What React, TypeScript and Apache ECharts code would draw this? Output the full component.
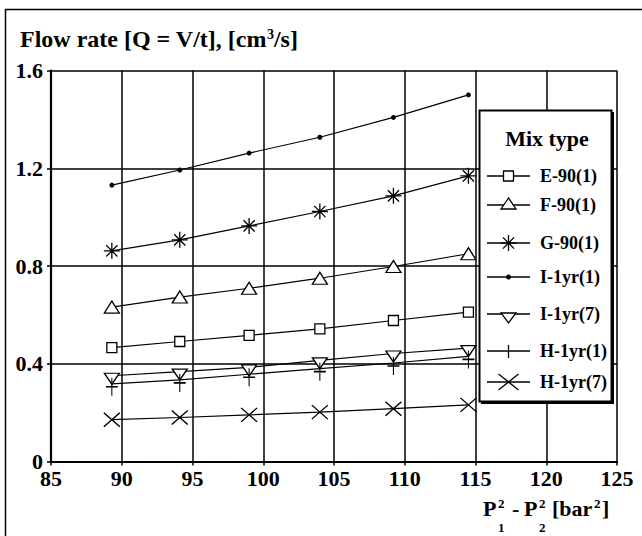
import React, { useEffect, useRef } from "react";
import * as echarts from "echarts";

const xValues = [89.3, 94.1, 99.0, 104.0, 109.2, 114.5];
const e90 = [0.466, 0.491, 0.516, 0.543, 0.577, 0.611];
const f90 = [0.632, 0.673, 0.709, 0.75, 0.798, 0.85];
const g90 = [0.862, 0.907, 0.964, 1.023, 1.087, 1.169];
const i1yr1 = [1.131, 1.193, 1.262, 1.327, 1.408, 1.5];
const i1yr7 = [0.351, 0.368, 0.385, 0.414, 0.442, 0.464];
const h1yr1 = [0.318, 0.334, 0.357, 0.38, 0.403, 0.43];
const h1yr7 = [0.171, 0.18, 0.191, 0.202, 0.216, 0.232];
const seriesNames = ["E-90(1)", "F-90(1)", "G-90(1)", "I-1yr(1)", "I-1yr(7)", "H-1yr(1)", "H-1yr(7)"];
const yTickLabels = ["0", "0.4", "0.8", "1.2", "1.6"];

const FONT = "Times New Roman, Tinos, Liberation Serif, DejaVu Serif, serif";

const ASTERISK = "path://M10,0L10,20M0,10L20,10M3,3L17,17M3,17L17,3";
const PLUS = "path://M10,0L10,20M2,10L18,10";
const CROSS = "path://M0,0L20,20M0,20L20,0";

function pairs(ys: number[]) {
  return xValues.map((x, i) => [x, ys[i]]);
}

export default function App() {
  const ref = useRef<HTMLDivElement>(null);
  useEffect(() => {
    if (!ref.current) return;
    const chart = echarts.init(ref.current, undefined, { renderer: "svg" });
    const line = { color: "#000", width: 1.2 };
    const hollow = { color: "#fff", borderColor: "#000", borderWidth: 1.3 };
    const stroke = { color: "#000", borderColor: "#000", borderWidth: 1.3 };
    const base = { type: "line", lineStyle: line, emphasis: { disabled: true }, z: 2 };
    const specs = [
      { data: e90, symbol: "rect", symbolSize: 10, itemStyle: hollow },
      { data: f90, symbol: "triangle", symbolSize: [15, 12], itemStyle: hollow },
      { data: g90, symbol: ASTERISK, symbolSize: 16, itemStyle: stroke },
      { data: i1yr1, symbol: "circle", symbolSize: 5, itemStyle: { color: "#000" } },
      { data: i1yr7, symbol: "triangle", symbolRotate: 180, symbolSize: [15, 11], symbolOffset: [0, 3], itemStyle: hollow },
      { data: h1yr1, symbol: PLUS, symbolSize: [12, 18], symbolOffset: [0, 3], itemStyle: stroke },
      { data: h1yr7, symbol: CROSS, symbolSize: [16, 14], itemStyle: stroke },
    ];
    const series = specs.map((s, i) => ({
      ...base,
      name: seriesNames[i],
      symbol: s.symbol,
      symbolSize: s.symbolSize,
      symbolRotate: (s as any).symbolRotate,
      symbolOffset: (s as any).symbolOffset,
      itemStyle: s.itemStyle,
      data: pairs(s.data),
    }));

    const txt = (text: string, x: number, y: number, size: number, extra: any = {}) => ({
      type: "text",
      x,
      y,
      z: 10,
      style: {
        text,
        fontFamily: FONT,
        fontWeight: "bold",
        fontSize: size,
        fill: "#000",
        verticalAlign: "middle",
        ...extra,
      },
    });
    const ln = (x1: number, y1: number, x2: number, y2: number, w = 1.3) => ({
      type: "line",
      z: 10,
      shape: { x1, y1, x2, y2 },
      style: { stroke: "#000", lineWidth: w },
    });

    const rowY = [176, 205, 243, 277, 314, 351, 382];
    const lx1 = 487, lx2 = 530, cx = 508.5;
    const legendEls: any[] = [];
    rowY.forEach((y, i) => {
      legendEls.push(ln(lx1, y, lx2, y, 1.3));
      legendEls.push(txt(seriesNames[i], 540, y, 18));
      if (i === 0) legendEls.push({ type: "rect", z: 10, shape: { x: cx - 5, y: y - 5, width: 10, height: 10 }, style: { fill: "#fff", stroke: "#000", lineWidth: 1.3 } });
      if (i === 1) legendEls.push({ type: "polygon", z: 10, shape: { points: [[cx, y - 7], [cx - 7.5, y + 4], [cx + 7.5, y + 4]] }, style: { fill: "#fff", stroke: "#000", lineWidth: 1.3 } });
      if (i === 2) {
        legendEls.push(ln(cx, y - 8, cx, y + 8));
        legendEls.push(ln(cx - 8, y, cx + 8, y));
        legendEls.push(ln(cx - 5.6, y - 5.6, cx + 5.6, y + 5.6));
        legendEls.push(ln(cx - 5.6, y + 5.6, cx + 5.6, y - 5.6));
      }
      if (i === 3) legendEls.push({ type: "circle", z: 10, shape: { cx, cy: y, r: 2.5 }, style: { fill: "#000" } });
      if (i === 4) legendEls.push({ type: "polygon", z: 10, shape: { points: [[cx - 7.5, y - 1], [cx + 7.5, y - 1], [cx, y + 9]] }, style: { fill: "#fff", stroke: "#000", lineWidth: 1.3 } });
      if (i === 5) legendEls.push(ln(cx, y - 6, cx, y + 7));
      if (i === 6) {
        legendEls.push(ln(cx - 10, y - 8, cx + 10, y + 8));
        legendEls.push(ln(cx - 10, y + 8, cx + 10, y - 8));
      }
    });

    chart.setOption({
      animation: false,
      textStyle: { fontFamily: FONT },
      grid: { left: 51, right: 25, top: 70.5, bottom: 74.5, containLabel: false },
      xAxis: {
        type: "value",
        min: 85,
        max: 125,
        interval: 5,
        axisLine: { show: true, lineStyle: { color: "#000", width: 2.2 } },
        axisTick: { show: true, length: 4, lineStyle: { color: "#000", width: 1.5 } },
        axisLabel: { color: "#000", fontSize: 22, fontWeight: "bold", fontFamily: FONT, margin: 6 },
        splitLine: { show: true, lineStyle: { color: "#000", width: 1.5 } },
      },
      yAxis: {
        type: "value",
        min: 0,
        max: 1.6,
        interval: 0.4,
        axisLine: { show: true, lineStyle: { color: "#000", width: 2.2 } },
        axisTick: { show: true, length: 4, lineStyle: { color: "#000", width: 1.5 } },
        axisLabel: {
          color: "#000",
          fontSize: 22,
          fontWeight: "bold",
          fontFamily: FONT,
          margin: 8,
          formatter: (v: number) => yTickLabels[Math.round(v / 0.4)] ?? String(v),
        },
        splitLine: { show: true, lineStyle: { color: "#000", width: 1.5 } },
      },
      graphic: [
        { type: "line", z: 10, shape: { x1: 5, y1: 9.5, x2: 642, y2: 9.5 }, style: { stroke: "#000", lineWidth: 1.5 } },
        { type: "line", z: 10, shape: { x1: 5.5, y1: 9, x2: 5.5, y2: 536 }, style: { stroke: "#000", lineWidth: 1.5 } },
        {
          type: "text",
          x: 20,
          y: 39,
          z: 10,
          style: {
            text: "{a|Flow rate [Q = V/t], [cm}{s|3}{a|/s]}",
            fontFamily: FONT,
            fontWeight: "bold",
            verticalAlign: "middle",
            fill: "#000",
            rich: {
              a: { fontFamily: FONT, fontWeight: "bold", fontSize: 24, fill: "#000", verticalAlign: "bottom" },
              s: { fontFamily: FONT, fontWeight: "bold", fontSize: 14, fill: "#000", verticalAlign: "top" },
            },
          },
        },
        { type: "rect", z: 3, shape: { x: 479.5, y: 110.5, width: 132, height: 291 }, style: { fill: "#fff", stroke: "#000", lineWidth: 2 } },
        { type: "line", z: 3, shape: { x1: 612.5, y1: 112, x2: 612.5, y2: 403 }, style: { stroke: "#000", lineWidth: 3 } },
        { type: "line", z: 3, shape: { x1: 481, y1: 402.5, x2: 614, y2: 402.5 }, style: { stroke: "#000", lineWidth: 3 } },
        txt("Mix type", 547, 138, 22, { align: "center" }),
        ...legendEls,
        txt("P", 483, 508, 22),
        txt("2", 498, 503, 13),
        txt("1", 498, 527, 13),
        txt("-", 512, 508, 22),
        txt("P", 524, 508, 22),
        txt("2", 539, 503, 13),
        txt("2", 539, 527, 13),
        txt("[bar", 552, 508, 22),
        txt("2", 594, 503, 13),
        txt("]", 602, 508, 22),
      ],
      series,
    });
    return () => chart.dispose();
  }, []);
  return <div ref={ref} style={{ position: "absolute", left: 0, top: 0, width: 642, height: 536 }} />;
}
